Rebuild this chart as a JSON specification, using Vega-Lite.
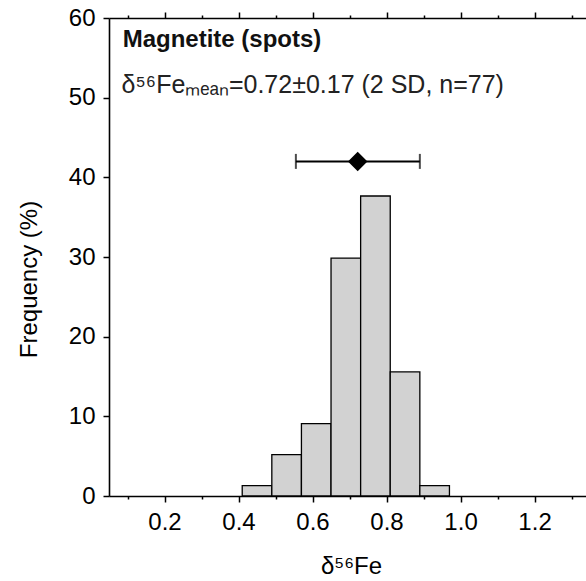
{
  "$schema": "https://vega.github.io/schema/vega-lite/v6.json",
  "width": 477,
  "height": 478,
  "autosize": "none",
  "padding": {"left": 109, "top": 18, "right": 0, "bottom": 85},
  "config": {
    "view": {"stroke": null},
    "font": "Liberation Sans",
    "scale": {"continuousPadding": 0},
    "axis": {
      "domainColor": "black", "domainWidth": 1.6, "tickColor": "black", "tickWidth": 1.5,
      "labelColor": "black", "titleColor": "black", "labelFont": "Liberation Sans", "titleFont": "Liberation Sans",
      "labelFontSize": 24, "titleFontSize": 24, "titleFontWeight": "normal", "grid": false
    }
  },
  "resolve": {"axis": {"x": "independent"}},
  "layer": [
    {
      "data": {"values": [
        {"start": 0.41, "end": 0.49, "freq": 1.30},
        {"start": 0.49, "end": 0.57, "freq": 5.19},
        {"start": 0.57, "end": 0.65, "freq": 9.09},
        {"start": 0.65, "end": 0.73, "freq": 29.87},
        {"start": 0.73, "end": 0.81, "freq": 37.66},
        {"start": 0.81, "end": 0.89, "freq": 15.58},
        {"start": 0.89, "end": 0.97, "freq": 1.30}
      ]},
      "mark": {"type": "bar", "fill": "#d2d2d2", "stroke": "black", "strokeWidth": 1.3},
      "encoding": {
        "x": {"field": "start", "type": "quantitative", "scale": {"domain": [0.05, 1.339], "nice": false, "zero": false, "padding": 0},
          "axis": {"orient": "bottom", "title": "δ⁵⁶Fe", "domain": true, "domainColor": "black", "values": [0.1,0.2,0.3,0.4,0.5,0.6,0.7,0.8,0.9,1.0,1.1,1.2,1.3],
            "labelExpr": "round(datum.value*10)%2==0 ? format(datum.value,'.1f') : ''",
            "tickSize": {"condition": {"test": "round(datum.value*10)%2==0", "value": 6}, "value": 3},
            "labelPadding": 8, "titleX": 242, "titleY": 77, "titleBaseline": "alphabetic", "titleAlign": "center", "labelFlush": false, "labelOverlap": false}},
        "x2": {"field": "end"},
        "y": {"field": "freq", "type": "quantitative", "scale": {"domain": [0, 60], "nice": false, "padding": 0},
          "axis": {"title": "Frequency (%)", "values": [0,5,10,15,20,25,30,35,40,45,50,55,60],
            "labelExpr": "datum.value%10==0 ? datum.label : ''",
            "tickSize": {"condition": {"test": "datum.value%10==0", "value": 6}, "value": 3},
            "labelPadding": 8, "titleX": -73, "titleY": 261, "titleBaseline": "alphabetic", "titleAngle": 270, "labelOverlap": false, "labelFlush": false}},
        "y2": {"datum": 0}
      }
    },
    {
      "mark": {"type": "rule", "stroke": "black", "strokeWidth": 1.6},
      "encoding": {"y": {"datum": 0}}
    },
    {
      "data": {"values": [{"lo": 0.555, "hi": 0.89, "mean": 0.722, "freq": 42}]},
      "mark": {"type": "rule", "stroke": "black", "strokeWidth": 2},
      "encoding": {
        "x": {"field": "lo", "type": "quantitative", "scale": {"domain": [0.05, 1.339], "nice": false, "zero": false, "padding": 0},
          "axis": {"orient": "top", "title": null, "labels": false, "values": [0.1,0.2,0.3,0.4,0.5,0.6,0.7,0.8,0.9,1.0,1.1,1.2,1.3],
            "tickSize": {"condition": {"test": "round(datum.value*10)%2==0", "value": 6}, "value": 3}}},
        "x2": {"field": "hi"},
        "y": {"field": "freq", "type": "quantitative"}
      }
    },
    {
      "data": {"values": [{"lo": 0.555, "hi": 0.89, "mean": 0.722, "freq": 42}]},
      "mark": {"type": "tick", "orient": "vertical", "color": "black", "size": 15, "thickness": 2},
      "encoding": {
        "x": {"field": "lo", "type": "quantitative", "axis": null},
        "y": {"field": "freq", "type": "quantitative"}
      }
    },
    {
      "data": {"values": [{"lo": 0.555, "hi": 0.89, "mean": 0.722, "freq": 42}]},
      "mark": {"type": "tick", "orient": "vertical", "color": "black", "size": 15, "thickness": 2},
      "encoding": {
        "x": {"field": "hi", "type": "quantitative", "axis": null},
        "y": {"field": "freq", "type": "quantitative"}
      }
    },
    {
      "data": {"values": [{"lo": 0.555, "hi": 0.89, "mean": 0.722, "freq": 42}]},
      "mark": {"type": "point", "shape": "diamond", "filled": true, "color": "black", "size": 380, "opacity": 1},
      "encoding": {
        "x": {"field": "mean", "type": "quantitative", "axis": null},
        "y": {"field": "freq", "type": "quantitative"}
      }
    },
    {
      "data": {"values": [{"x": 0.087, "freq": 56.4, "label": "Magnetite (spots)"}]},
      "mark": {"type": "text", "align": "left", "baseline": "alphabetic", "fontSize": 24, "fontWeight": "bold", "font": "Liberation Sans", "color": "#111"},
      "encoding": {
        "x": {"field": "x", "type": "quantitative", "axis": null},
        "y": {"field": "freq", "type": "quantitative"},
        "text": {"field": "label"}
      }
    },
    {
      "data": {"values": [{"x": 0.084, "freq": 50.6, "label": "δ⁵⁶Feₘₑₐₙ=0.72±0.17 (2 SD, n=77)"}]},
      "mark": {"type": "text", "align": "left", "baseline": "alphabetic", "fontSize": 25, "font": "Liberation Sans", "color": "#222"},
      "encoding": {
        "x": {"field": "x", "type": "quantitative", "axis": null},
        "y": {"field": "freq", "type": "quantitative"},
        "text": {"field": "label"}
      }
    }
  ]
}
